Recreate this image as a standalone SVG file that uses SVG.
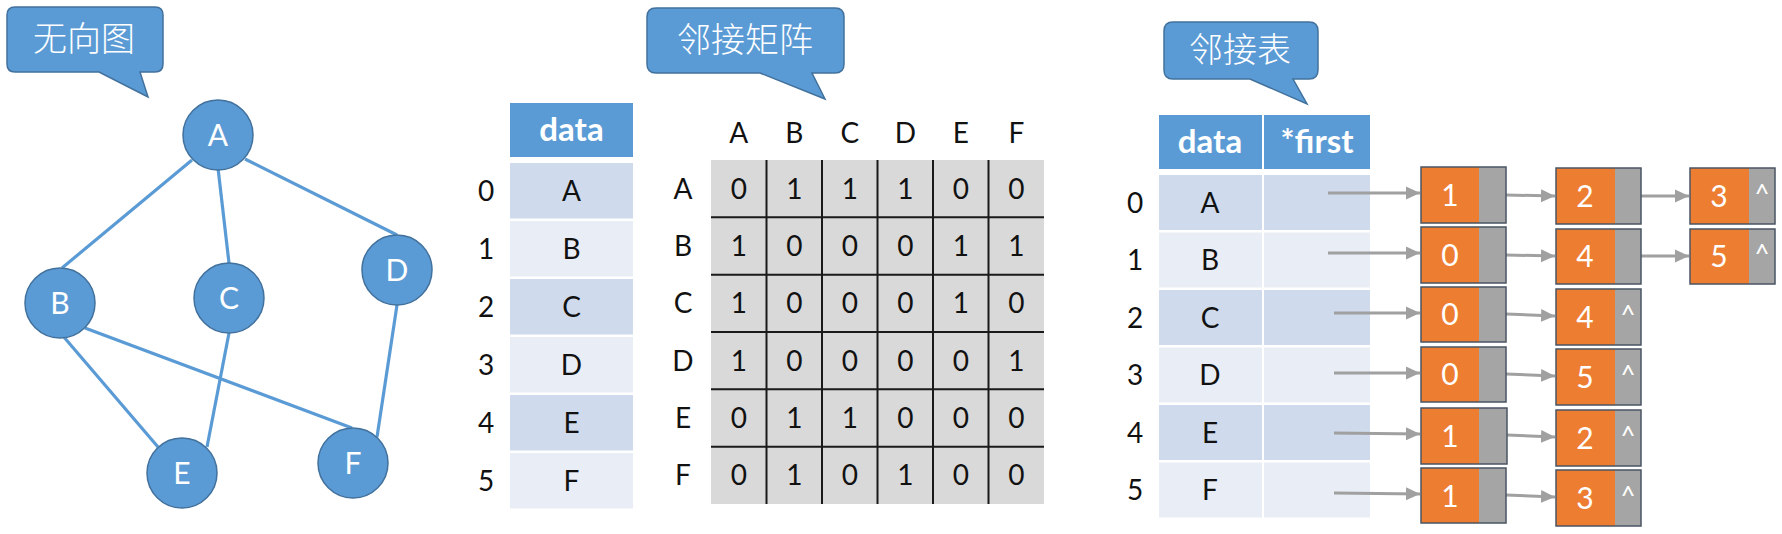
<svg xmlns="http://www.w3.org/2000/svg" width="1782" height="534" viewBox="0 0 1782 534">
<style>
  .bg{fill:#ffffff}
  .callout{fill:#5b9bd5;stroke:#41719c;stroke-width:1.5}
  .cjk{font-family:"Noto Sans CJK SC","Noto Sans",sans-serif;font-size:34px;fill:#ffffff;text-anchor:middle;font-weight:300}
  .vert{fill:#5b9bd5;stroke:#41719c;stroke-width:1.5}
  .vlab{font-family:Lato,"Liberation Sans",sans-serif;font-size:30px;fill:#ffffff;text-anchor:middle}
  .edge{stroke:#5b9bd5;stroke-width:3.2;fill:none}
  .t{font-family:Lato,"Liberation Sans",sans-serif;font-size:28px;fill:#111111;text-anchor:middle}
  .hd{font-family:Lato,"Liberation Sans",sans-serif;font-size:33px;font-weight:bold;fill:#ffffff;text-anchor:middle}
  .head{fill:#5b9bd5}
  .r1{fill:#cfdbec}
  .r2{fill:#e9edf6}
  .mat{fill:#d9d9d9}
  .grid{stroke:#1a1a1a;stroke-width:2}
  .or{fill:#ed7d31}
  .gr{fill:#a5a5a5}
  .box{fill:none;stroke:#4a5563;stroke-width:1.5}
  .nv{font-family:Lato,"Liberation Sans",sans-serif;font-size:30px;fill:#ffffff;text-anchor:middle}
  .nil{font-family:Lato,"Liberation Sans",sans-serif;font-size:26px;fill:#ffffff;text-anchor:middle}
  .ptr{stroke:#a0a0a0;stroke-width:3;fill:none;marker-end:url(#ah)}
</style>
<defs>
  <marker id="ah" markerUnits="userSpaceOnUse" markerWidth="16" markerHeight="16" refX="14" refY="8" orient="auto">
    <path d="M0,1.5 L14,8 L0,14.5 Z" fill="#a0a0a0"/>
  </marker>
</defs>
<rect class="bg" x="0" y="0" width="1782" height="534"/>

<!-- Callouts -->
<g id="callout-undirected">
  <path class="callout" d="M15,7 H155 Q163,7 163,15 V64 Q163,72 155,72 H140 L148,97 L99,72 H15 Q7,72 7,64 V15 Q7,7 15,7 Z"/>
  <text class="cjk" x="84" y="51">无向图</text>
</g>
<g id="callout-matrix">
  <path class="callout" d="M656,8 H835 Q844,8 844,17 V64 Q844,73 835,73 H812 L825,99 L760,73 H656 Q647,73 647,64 V17 Q647,8 656,8 Z"/>
  <text class="cjk" x="745" y="52">邻接矩阵</text>
</g>
<g id="callout-list">
  <path class="callout" d="M1173,22 H1309 Q1318,22 1318,31 V70 Q1318,79 1309,79 H1293 L1307,104 L1250,79 H1173 Q1164,79 1164,70 V31 Q1164,22 1173,22 Z"/>
  <text class="cjk" x="1240" y="62">邻接表</text>
</g>

<!-- Vertex data table (matrix view) -->
<g id="vertex-table">
  <rect class="head" x="510" y="103" width="123" height="54"/>
  <text class="hd" x="571.5" y="141">data</text>
  <rect class="r1" x="510" y="163" width="123" height="55.5"/>
  <rect class="r2" x="510" y="221" width="123" height="55.5"/>
  <rect class="r1" x="510" y="279" width="123" height="55.5"/>
  <rect class="r2" x="510" y="337" width="123" height="55.5"/>
  <rect class="r1" x="510" y="395" width="123" height="55.5"/>
  <rect class="r2" x="510" y="453" width="123" height="55.5"/>
  <text class="t" x="571.5" y="201">A</text>
  <text class="t" x="571.5" y="259">B</text>
  <text class="t" x="571.5" y="317">C</text>
  <text class="t" x="571.5" y="375">D</text>
  <text class="t" x="571.5" y="433">E</text>
  <text class="t" x="571.5" y="491">F</text>
  <text class="t" x="486" y="201">0</text>
  <text class="t" x="486" y="259">1</text>
  <text class="t" x="486" y="317">2</text>
  <text class="t" x="486" y="375">3</text>
  <text class="t" x="486" y="433">4</text>
  <text class="t" x="486" y="491">5</text>
</g>

<!-- Adjacency matrix -->
<g id="adj-matrix">
  <rect class="mat" x="711" y="160" width="333" height="344"/>
  <line class="grid" x1="766.5" y1="160" x2="766.5" y2="504"/>
  <line class="grid" x1="822" y1="160" x2="822" y2="504"/>
  <line class="grid" x1="877.5" y1="160" x2="877.5" y2="504"/>
  <line class="grid" x1="933" y1="160" x2="933" y2="504"/>
  <line class="grid" x1="988.5" y1="160" x2="988.5" y2="504"/>
  <line class="grid" x1="711" y1="217.3" x2="1044" y2="217.3"/>
  <line class="grid" x1="711" y1="274.7" x2="1044" y2="274.7"/>
  <line class="grid" x1="711" y1="332" x2="1044" y2="332"/>
  <line class="grid" x1="711" y1="389.3" x2="1044" y2="389.3"/>
  <line class="grid" x1="711" y1="446.7" x2="1044" y2="446.7"/>
  <g class="colhead">
    <text class="t" x="738.8" y="143">A</text>
    <text class="t" x="794.3" y="143">B</text>
    <text class="t" x="849.8" y="143">C</text>
    <text class="t" x="905.3" y="143">D</text>
    <text class="t" x="960.8" y="143">E</text>
    <text class="t" x="1016.3" y="143">F</text>
  </g>
  <g class="rowhead">
    <text class="t" x="683" y="199">A</text>
    <text class="t" x="683" y="256">B</text>
    <text class="t" x="683" y="313">C</text>
    <text class="t" x="683" y="371">D</text>
    <text class="t" x="683" y="428">E</text>
    <text class="t" x="683" y="485">F</text>
  </g>
  <g class="cells">
    <text class="t" x="738.8" y="199">0</text><text class="t" x="794.3" y="199">1</text><text class="t" x="849.8" y="199">1</text><text class="t" x="905.3" y="199">1</text><text class="t" x="960.8" y="199">0</text><text class="t" x="1016.3" y="199">0</text>
    <text class="t" x="738.8" y="256">1</text><text class="t" x="794.3" y="256">0</text><text class="t" x="849.8" y="256">0</text><text class="t" x="905.3" y="256">0</text><text class="t" x="960.8" y="256">1</text><text class="t" x="1016.3" y="256">1</text>
    <text class="t" x="738.8" y="313">1</text><text class="t" x="794.3" y="313">0</text><text class="t" x="849.8" y="313">0</text><text class="t" x="905.3" y="313">0</text><text class="t" x="960.8" y="313">1</text><text class="t" x="1016.3" y="313">0</text>
    <text class="t" x="738.8" y="371">1</text><text class="t" x="794.3" y="371">0</text><text class="t" x="849.8" y="371">0</text><text class="t" x="905.3" y="371">0</text><text class="t" x="960.8" y="371">0</text><text class="t" x="1016.3" y="371">1</text>
    <text class="t" x="738.8" y="428">0</text><text class="t" x="794.3" y="428">1</text><text class="t" x="849.8" y="428">1</text><text class="t" x="905.3" y="428">0</text><text class="t" x="960.8" y="428">0</text><text class="t" x="1016.3" y="428">0</text>
    <text class="t" x="738.8" y="485">0</text><text class="t" x="794.3" y="485">1</text><text class="t" x="849.8" y="485">0</text><text class="t" x="905.3" y="485">1</text><text class="t" x="960.8" y="485">0</text><text class="t" x="1016.3" y="485">0</text>
  </g>
</g>

<!-- Adjacency list head table -->
<g id="list-table">
  <rect class="head" x="1159" y="115" width="211" height="54"/>
  <line x1="1263" y1="115" x2="1263" y2="169" stroke="#ffffff" stroke-width="2"/>
  <text class="hd" x="1210" y="153">data</text>
  <text class="hd" x="1317" y="153">*first</text>
  <rect class="r1" x="1159" y="175" width="103" height="55"/><rect class="r1" x="1264" y="175" width="106" height="55"/>
  <rect class="r2" x="1159" y="232.5" width="103" height="55"/><rect class="r2" x="1264" y="232.5" width="106" height="55"/>
  <rect class="r1" x="1159" y="290" width="103" height="55"/><rect class="r1" x="1264" y="290" width="106" height="55"/>
  <rect class="r2" x="1159" y="347.5" width="103" height="55"/><rect class="r2" x="1264" y="347.5" width="106" height="55"/>
  <rect class="r1" x="1159" y="405" width="103" height="55"/><rect class="r1" x="1264" y="405" width="106" height="55"/>
  <rect class="r2" x="1159" y="462.5" width="103" height="55"/><rect class="r2" x="1264" y="462.5" width="106" height="55"/>
  <text class="t" x="1210" y="213">A</text>
  <text class="t" x="1210" y="270">B</text>
  <text class="t" x="1210" y="328">C</text>
  <text class="t" x="1210" y="385">D</text>
  <text class="t" x="1210" y="443">E</text>
  <text class="t" x="1210" y="500">F</text>
  <text class="t" x="1135" y="213">0</text>
  <text class="t" x="1135" y="270">1</text>
  <text class="t" x="1135" y="328">2</text>
  <text class="t" x="1135" y="385">3</text>
  <text class="t" x="1135" y="443">4</text>
  <text class="t" x="1135" y="500">5</text>
</g>

<!-- Connectors -->
<g id="connectors">
  <line class="edge" x1="192" y1="160" x2="62" y2="268"/>
  <line class="edge" x1="218" y1="168" x2="229" y2="263"/>
  <line class="edge" x1="245" y1="159" x2="397" y2="235"/>
  <line class="edge" x1="63" y1="336" x2="158" y2="447"/>
  <line class="edge" x1="85" y1="328" x2="352" y2="428"/>
  <line class="edge" x1="229" y1="333" x2="207" y2="447"/>
  <line class="edge" x1="397" y1="305" x2="377" y2="437"/>

  <line class="ptr" x1="1328" y1="193" x2="1420" y2="193"/>
  <line class="ptr" x1="1328" y1="253" x2="1420" y2="253"/>
  <line class="ptr" x1="1334" y1="313" x2="1420" y2="313"/>
  <line class="ptr" x1="1334" y1="373" x2="1420" y2="373"/>
  <line class="ptr" x1="1334" y1="433" x2="1420" y2="434"/>
  <line class="ptr" x1="1334" y1="493" x2="1420" y2="494"/>

  <line class="ptr" x1="1506" y1="195" x2="1555" y2="196"/>
  <line class="ptr" x1="1506" y1="255" x2="1555" y2="256"/>
  <line class="ptr" x1="1506" y1="314" x2="1555" y2="316"/>
  <line class="ptr" x1="1506" y1="374" x2="1555" y2="376"/>
  <line class="ptr" x1="1507" y1="435" x2="1555" y2="437"/>
  <line class="ptr" x1="1506" y1="495" x2="1555" y2="497"/>

  <line class="ptr" x1="1641" y1="196" x2="1689" y2="196"/>
  <line class="ptr" x1="1641" y1="256" x2="1689" y2="256"/>
</g>

<!-- Graph vertices -->
<g id="v-A"><circle class="vert" cx="218" cy="135" r="35"/><text class="vlab" x="218" y="146">A</text></g>
<g id="v-B"><circle class="vert" cx="60" cy="303" r="35"/><text class="vlab" x="60" y="314">B</text></g>
<g id="v-C"><circle class="vert" cx="229" cy="298" r="35"/><text class="vlab" x="229" y="309">C</text></g>
<g id="v-D"><circle class="vert" cx="397" cy="270" r="35"/><text class="vlab" x="397" y="281">D</text></g>
<g id="v-E"><circle class="vert" cx="182" cy="473" r="35"/><text class="vlab" x="182" y="484">E</text></g>
<g id="v-F"><circle class="vert" cx="353" cy="463" r="35"/><text class="vlab" x="353" y="474">F</text></g>

<!-- Edge nodes: column 1 -->
<g id="e0-1"><rect class="or" x="1421" y="167" width="58" height="56"/><rect class="gr" x="1479" y="167" width="27" height="56"/><rect class="box" x="1421" y="167" width="85" height="56"/><text class="nv" x="1450" y="206">1</text></g>
<g id="e1-0"><rect class="or" x="1421" y="227" width="58" height="56"/><rect class="gr" x="1479" y="227" width="27" height="56"/><rect class="box" x="1421" y="227" width="85" height="56"/><text class="nv" x="1450" y="266">0</text></g>
<g id="e2-0"><rect class="or" x="1421" y="287" width="58" height="55"/><rect class="gr" x="1479" y="287" width="27" height="55"/><rect class="box" x="1421" y="287" width="85" height="55"/><text class="nv" x="1450" y="325">0</text></g>
<g id="e3-0"><rect class="or" x="1421" y="347" width="58" height="55"/><rect class="gr" x="1479" y="347" width="27" height="55"/><rect class="box" x="1421" y="347" width="85" height="55"/><text class="nv" x="1450" y="385">0</text></g>
<g id="e4-1"><rect class="or" x="1421" y="408" width="58" height="56"/><rect class="gr" x="1479" y="408" width="28" height="56"/><rect class="box" x="1421" y="408" width="86" height="56"/><text class="nv" x="1450" y="447">1</text></g>
<g id="e5-1"><rect class="or" x="1421" y="468" width="58" height="55"/><rect class="gr" x="1479" y="468" width="27" height="55"/><rect class="box" x="1421" y="468" width="85" height="55"/><text class="nv" x="1450" y="507">1</text></g>

<!-- Edge nodes: column 2 -->
<g id="e0-2"><rect class="or" x="1556" y="168" width="59" height="56"/><rect class="gr" x="1615" y="168" width="26" height="56"/><rect class="box" x="1556" y="168" width="85" height="56"/><text class="nv" x="1585" y="207">2</text></g>
<g id="e1-4"><rect class="or" x="1556" y="229" width="59" height="55"/><rect class="gr" x="1615" y="229" width="26" height="55"/><rect class="box" x="1556" y="229" width="85" height="55"/><text class="nv" x="1585" y="267">4</text></g>
<g id="e2-4"><rect class="or" x="1556" y="289" width="59" height="56"/><rect class="gr" x="1615" y="289" width="26" height="56"/><rect class="box" x="1556" y="289" width="85" height="56"/><text class="nv" x="1585" y="328">4</text><text class="nil" x="1628" y="324">^</text></g>
<g id="e3-5"><rect class="or" x="1556" y="349" width="59" height="56"/><rect class="gr" x="1615" y="349" width="26" height="56"/><rect class="box" x="1556" y="349" width="85" height="56"/><text class="nv" x="1585" y="388">5</text><text class="nil" x="1628" y="384">^</text></g>
<g id="e4-2"><rect class="or" x="1556" y="410" width="59" height="56"/><rect class="gr" x="1615" y="410" width="26" height="56"/><rect class="box" x="1556" y="410" width="85" height="56"/><text class="nv" x="1585" y="449">2</text><text class="nil" x="1628" y="445">^</text></g>
<g id="e5-3"><rect class="or" x="1556" y="470" width="59" height="56"/><rect class="gr" x="1615" y="470" width="26" height="56"/><rect class="box" x="1556" y="470" width="85" height="56"/><text class="nv" x="1585" y="509">3</text><text class="nil" x="1628" y="505">^</text></g>

<!-- Edge nodes: column 3 -->
<g id="e0-3"><rect class="or" x="1690" y="168" width="59" height="56"/><rect class="gr" x="1749" y="168" width="26" height="56"/><rect class="box" x="1690" y="168" width="85" height="56"/><text class="nv" x="1719" y="207">3</text><text class="nil" x="1762" y="203">^</text></g>
<g id="e1-5"><rect class="or" x="1690" y="229" width="59" height="55"/><rect class="gr" x="1749" y="229" width="26" height="55"/><rect class="box" x="1690" y="229" width="85" height="55"/><text class="nv" x="1719" y="267">5</text><text class="nil" x="1762" y="263">^</text></g>
</svg>
